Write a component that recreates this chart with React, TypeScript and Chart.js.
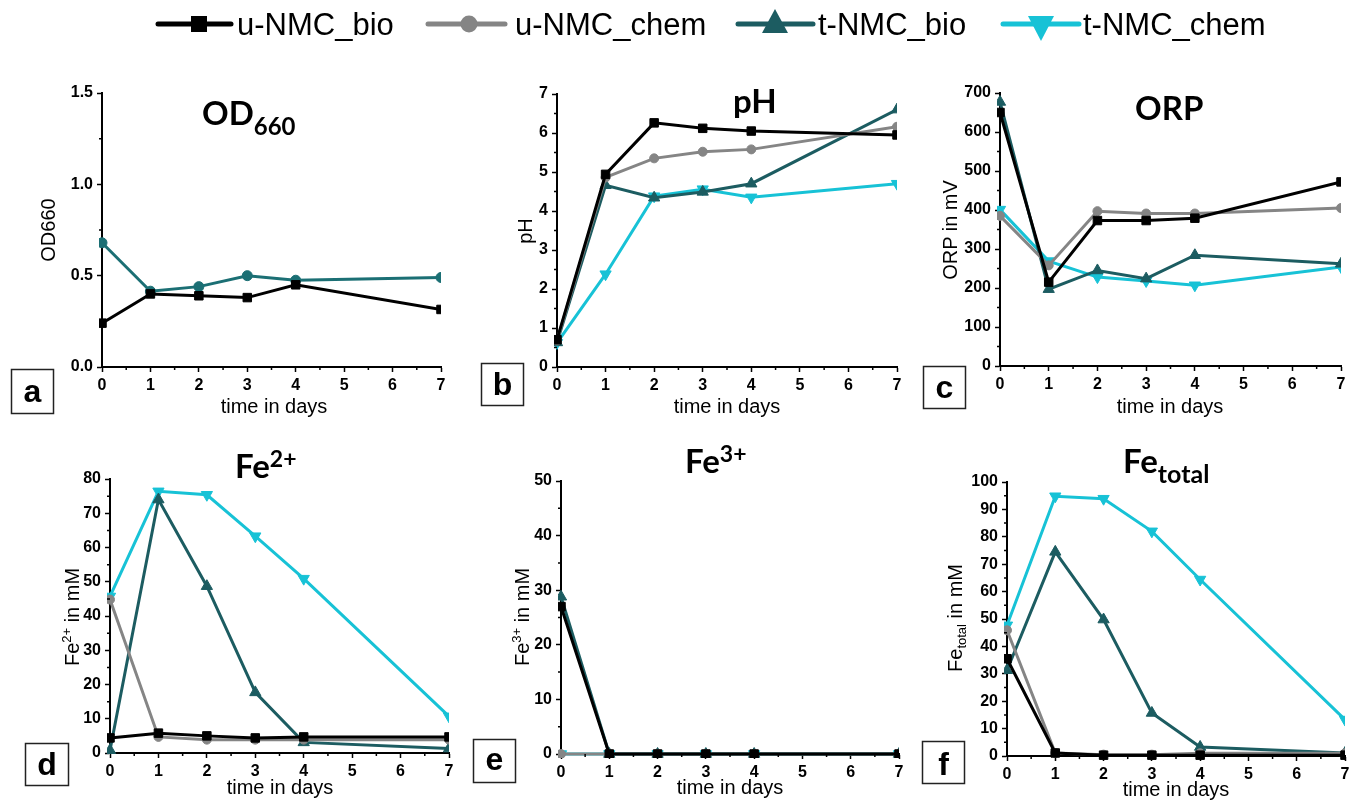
import React, { useEffect, useRef } from 'react';
import { Chart, registerables } from 'chart.js';

Chart.register(...registerables);

// ---------- data ----------
const days = [0, 1, 2, 3, 4, 7];
const seriesNames = ['u-NMC_bio', 'u-NMC_chem', 't-NMC_bio', 't-NMC_chem'];

// OD660
const odUBio = [0.24, 0.4, 0.39, 0.38, 0.45, 0.315];
const odTBio = [0.68, 0.415, 0.44, 0.5, 0.475, 0.49];

// pH
const phUBio = [0.7, 4.94, 6.26, 6.12, 6.05, 5.95];
const phUChem = [0.68, 4.86, 5.35, 5.52, 5.58, 6.16];
const phTBio = [0.63, 4.66, 4.34, 4.49, 4.7, 6.6];
const phTChem = [0.62, 2.38, 4.38, 4.56, 4.35, 4.7];

// ORP in mV
const orpUBio = [650, 215, 373, 373, 379, 472];
const orpUChem = [385, 258, 397, 391, 391, 405];
const orpTBio = [677, 197, 245, 224, 284, 262];
const orpTChem = [401, 269, 228, 218, 207, 254];

// Fe2+ in mM
const fe2UBio = [4.4, 5.8, 5.0, 4.4, 4.7, 4.7];
const fe2UChem = [44.8, 4.7, 3.9, 3.9, 3.9, 3.9];
const fe2TBio = [0.8, 74, 48.7, 17.7, 3.1, 1.3];
const fe2TChem = [45.7, 76.4, 75.4, 63.3, 50.9, 10.7];

// Fe3+ in mM
const fe3UBio = [27, 0, 0, 0, 0, 0];
const fe3UChem = [0, 0, 0, 0, 0, 0];
const fe3TBio = [28.8, 0, 0, 0, 0, 0];
const fe3TChem = [0, 0, 0, 0, 0, 0];

// Fe_total in mM
const fetUBio = [35.5, 1.1, 0.3, 0.3, 0.3, 0.3];
const fetUChem = [45.9, 1.1, 0.5, 0.5, 1.0, 1.0];
const fetTBio = [31.3, 74.5, 49.8, 15.7, 3.3, 1.1];
const fetTChem = [47.7, 94.8, 93.9, 82, 64.4, 13.3];

// ---------- styles ----------
const BLACK = '#000000';
const GRAY = '#858585';
const TEAL = '#1c5c61';
const TEAL_A = '#1b6f74';
const CYAN = '#17c2d6';

const FONT = '"Liberation Sans", Arial, sans-serif';
const TITLE_FONT = 'Lato, "Open Sans", sans-serif';

type Style = { color: string; shape: string; rot: number; r: number };
const S_UBIO: Style = { color: BLACK, shape: 'rect', rot: 0, r: 6 };
const S_UCHEM: Style = { color: GRAY, shape: 'circle', rot: 0, r: 4.5 };
const S_TBIO: Style = { color: TEAL, shape: 'triangle', rot: 0, r: 6.5 };
const S_TCHEM: Style = { color: CYAN, shape: 'triangle', rot: 180, r: 6.5 };
const S_TBIO_A: Style = { color: TEAL_A, shape: 'circle', rot: 0, r: 5 };

function ds(label: string, values: number[], st: Style) {
  return {
    label,
    data: days.map((d, i) => ({ x: d, y: values[i] })),
    borderColor: st.color,
    backgroundColor: st.color,
    borderWidth: 3,
    pointStyle: st.shape,
    pointRotation: st.rot,
    pointRadius: st.r,
    pointBorderWidth: 1,
    pointBorderColor: st.color,
    pointBackgroundColor: st.color,
    tension: 0,
    clip: { left: 3, top: 8, right: 0, bottom: 4 },
  };
}

const PANELS = [
  {
    L: 102, R: 441, T: 93, B: 367, yMin: 0, yMax: 1.5, yStep: 0.5, dec: 1,
    datasets: [ds(seriesNames[0], odUBio, S_UBIO), ds(seriesNames[2], odTBio, S_TBIO_A)],
  },
  {
    L: 557, R: 897, T: 94, B: 367, yMin: 0, yMax: 7, yStep: 1, dec: 0,
    datasets: [
      ds(seriesNames[0], phUBio, S_UBIO), ds(seriesNames[1], phUChem, S_UCHEM),
      ds(seriesNames[2], phTBio, S_TBIO), ds(seriesNames[3], phTChem, S_TCHEM),
    ],
  },
  {
    L: 1000, R: 1341, T: 93, B: 366, yMin: 0, yMax: 700, yStep: 100, dec: 0,
    datasets: [
      ds(seriesNames[0], orpUBio, S_UBIO), ds(seriesNames[1], orpUChem, S_UCHEM),
      ds(seriesNames[2], orpTBio, S_TBIO), ds(seriesNames[3], orpTChem, S_TCHEM),
    ],
  },
  {
    L: 110, R: 449, T: 479, B: 753, yMin: 0, yMax: 80, yStep: 10, dec: 0,
    datasets: [
      ds(seriesNames[0], fe2UBio, S_UBIO), ds(seriesNames[1], fe2UChem, S_UCHEM),
      ds(seriesNames[2], fe2TBio, S_TBIO), ds(seriesNames[3], fe2TChem, S_TCHEM),
    ],
  },
  {
    L: 561, R: 899, T: 481, B: 754, yMin: 0, yMax: 50, yStep: 10, dec: 0,
    datasets: [
      ds(seriesNames[0], fe3UBio, S_UBIO), ds(seriesNames[1], fe3UChem, S_UCHEM),
      ds(seriesNames[2], fe3TBio, S_TBIO), ds(seriesNames[3], fe3TChem, S_TCHEM),
    ],
  },
  {
    L: 1007, R: 1345, T: 482, B: 756, yMin: 0, yMax: 100, yStep: 10, dec: 0,
    datasets: [
      ds(seriesNames[0], fetUBio, S_UBIO), ds(seriesNames[1], fetUChem, S_UCHEM),
      ds(seriesNames[2], fetTBio, S_TBIO), ds(seriesNames[3], fetTChem, S_TCHEM),
    ],
  },
];

const Y_W = 50;
const PAD_T = 14;
const PAD_R = 14;
const X_H = 30;

const minorTicks = {
  id: 'minorTicks',
  afterDraw(chart: any, _args: any, opts: any) {
    const { ctx, chartArea: ca, scales } = chart;
    ctx.save();
    ctx.strokeStyle = '#000';
    ctx.lineWidth = 1.5;
    ctx.beginPath();
    for (let v = 0.5; v < 7; v += 1) {
      const px = scales.x.getPixelForValue(v);
      ctx.moveTo(px, ca.bottom);
      ctx.lineTo(px, ca.bottom + 3);
    }
    for (let v = opts.yMin + opts.yStep / 2; v < opts.yMax; v += opts.yStep) {
      const py = scales.y.getPixelForValue(v);
      ctx.moveTo(ca.left, py);
      ctx.lineTo(ca.left - 3, py);
    }
    ctx.stroke();
    ctx.restore();
  },
};

export default function App() {
  const refs = useRef<(HTMLCanvasElement | null)[]>([]);

  useEffect(() => {
    const charts = PANELS.map((p, i) => {
      const canvas = refs.current[i] as HTMLCanvasElement;
      return new Chart(canvas, {
        type: 'line',
        data: { datasets: p.datasets as any },
        plugins: [minorTicks],
        options: {
          animation: false,
          responsive: false,
          devicePixelRatio: 1,
          layout: { padding: { top: PAD_T, right: PAD_R, left: 0, bottom: 0 } },
          plugins: {
            legend: { display: false },
            tooltip: { enabled: false },
            minorTicks: { yMin: p.yMin, yMax: p.yMax, yStep: p.yStep },
          } as any,
          scales: {
            x: {
              type: 'linear',
              min: 0,
              max: 7,
              ticks: {
                stepSize: 1,
                color: '#000',
                padding: 4,
                maxRotation: 0,
                autoSkip: false,
                font: { family: FONT, size: 16, weight: 'bold' },
              },
              grid: { drawOnChartArea: false, drawTicks: true, tickLength: 5, tickColor: '#000', tickWidth: 1.5 },
              border: { display: true, color: '#000', width: 2 },
              afterFit: (s: any) => { s.height = X_H; },
            },
            y: {
              type: 'linear',
              min: p.yMin,
              max: p.yMax,
              ticks: {
                stepSize: p.yStep,
                color: '#000',
                padding: 4,
                autoSkip: false,
                font: { family: FONT, size: 16, weight: 'bold' },
                callback: (v: any) => Number(v).toFixed(p.dec),
              },
              grid: { drawOnChartArea: false, drawTicks: true, tickLength: 5, tickColor: '#000', tickWidth: 1.5 },
              border: { display: true, color: '#000', width: 2 },
              afterFit: (s: any) => { s.width = Y_W; },
            },
          },
        } as any,
      });
    });
    return () => charts.forEach((c) => c.destroy());
  }, []);

  const xTitles = [
    { x: 274, y: 413 }, { x: 727, y: 413 }, { x: 1170, y: 413 },
    { x: 280, y: 794 }, { x: 730, y: 794 }, { x: 1176, y: 796 },
  ];

  const boxes = [
    { l: 'a', x: 11, y: 369, w: 42, h: 44, by: 402 },
    { l: 'b', x: 481, y: 363, w: 42, h: 42, by: 395 },
    { l: 'c', x: 923, y: 366, w: 42, h: 42, by: 398 },
    { l: 'd', x: 25, y: 743, w: 43, h: 42, by: 775 },
    { l: 'e', x: 473, y: 739, w: 42, h: 43, by: 770 },
    { l: 'f', x: 922, y: 741, w: 42, h: 42, by: 775 },
  ];

  return (
    <div style={{ position: 'absolute', left: 0, top: 0, width: 1364, height: 805, background: '#fff', overflow: 'hidden' }}>
      {PANELS.map((p, i) => (
        <canvas
          key={i}
          ref={(el) => { refs.current[i] = el; }}
          width={p.R - p.L + Y_W + PAD_R}
          height={p.B - p.T + PAD_T + X_H}
          style={{ position: 'absolute', left: p.L - Y_W, top: p.T - PAD_T }}
        />
      ))}
      <svg width={1364} height={805} style={{ position: 'absolute', left: 0, top: 0, pointerEvents: 'none' }}>
        {/* legend */}
        <g>
          <line x1={158} y1={24} x2={231} y2={24} stroke={BLACK} strokeWidth={5} strokeLinecap="round" />
          <rect x={191} y={16} width={16} height={16} fill={BLACK} />
          <text x={237} y={35} fontFamily={FONT} fontSize={31} fill="#000">{seriesNames[0]}</text>

          <line x1={428} y1={24} x2={505} y2={24} stroke={GRAY} strokeWidth={5} strokeLinecap="round" />
          <circle cx={469} cy={24} r={8.5} fill={GRAY} />
          <text x={515} y={35} fontFamily={FONT} fontSize={31} fill="#000">{seriesNames[1]}</text>

          <line x1={738} y1={24} x2={813} y2={24} stroke={TEAL} strokeWidth={5} strokeLinecap="round" />
          <polygon points="775,9 762,33 788,33" fill={TEAL} />
          <text x={818} y={35} fontFamily={FONT} fontSize={31} fill="#000">{seriesNames[2]}</text>

          <line x1={1003} y1={24} x2={1079} y2={24} stroke={CYAN} strokeWidth={5} strokeLinecap="round" />
          <polygon points="1028,16 1054,16 1041,41" fill={CYAN} />
          <text x={1083} y={35} fontFamily={FONT} fontSize={31} fill="#000">{seriesNames[3]}</text>
        </g>

        {/* panel titles */}
        <text x={202} y={125} fontFamily={TITLE_FONT} fontWeight="bold" fontSize={33} fill="#000">
          OD<tspan fontSize={24} dy={10}>660</tspan>
        </text>
        <text x={733} y={113} fontFamily={TITLE_FONT} fontWeight="bold" fontSize={33} fill="#000">pH</text>
        <text x={1135} y={120} fontFamily={TITLE_FONT} fontWeight="bold" fontSize={33} fill="#000">ORP</text>
        <text x={235} y={478} fontFamily={TITLE_FONT} fontWeight="bold" fontSize={33} fill="#000">
          Fe<tspan fontSize={23} dy={-11}>2+</tspan>
        </text>
        <text x={685} y={473} fontFamily={TITLE_FONT} fontWeight="bold" fontSize={33} fill="#000">
          Fe<tspan fontSize={23} dy={-11}>3+</tspan>
        </text>
        <text x={1123} y={473} fontFamily={TITLE_FONT} fontWeight="bold" fontSize={33} fill="#000">
          Fe<tspan fontSize={25} dy={10}>total</tspan>
        </text>

        {/* x axis titles */}
        {xTitles.map((t, i) => (
          <text key={'xt' + i} x={t.x} y={t.y} textAnchor="middle" fontFamily={FONT} fontSize={20} fill="#000">time in days</text>
        ))}

        {/* y axis titles */}
        <text transform="translate(55,230) rotate(-90)" textAnchor="middle" fontFamily={FONT} fontSize={20} fill="#000">OD660</text>
        <text transform="translate(532,231) rotate(-90)" textAnchor="middle" fontFamily={FONT} fontSize={20} fill="#000">pH</text>
        <text transform="translate(957,230) rotate(-90)" textAnchor="middle" fontFamily={FONT} fontSize={20} fill="#000">ORP in mV</text>
        <text transform="translate(79,617) rotate(-90)" textAnchor="middle" fontFamily={FONT} fontSize={20} fill="#000">
          Fe<tspan fontSize={13} dy={-8}>2+</tspan><tspan dy={8}> in mM</tspan>
        </text>
        <text transform="translate(529,617) rotate(-90)" textAnchor="middle" fontFamily={FONT} fontSize={20} fill="#000">
          Fe<tspan fontSize={13} dy={-8}>3+</tspan><tspan dy={8}> in mM</tspan>
        </text>
        <text transform="translate(962,618) rotate(-90)" textAnchor="middle" fontFamily={FONT} fontSize={20} fill="#000">
          Fe<tspan fontSize={13} dy={4}>total</tspan><tspan dy={-4}> in mM</tspan>
        </text>

        {/* panel letter boxes */}
        {boxes.map((b) => (
          <g key={b.l}>
            <rect x={b.x + 0.5} y={b.y + 0.5} width={b.w} height={b.h} fill="#fff" stroke="#222" strokeWidth={1.5} />
            <text x={b.x + b.w / 2 + 0.5} y={b.by} textAnchor="middle" fontFamily={FONT} fontWeight="bold" fontSize={32} fill="#000">{b.l}</text>
          </g>
        ))}
      </svg>
    </div>
  );
}
